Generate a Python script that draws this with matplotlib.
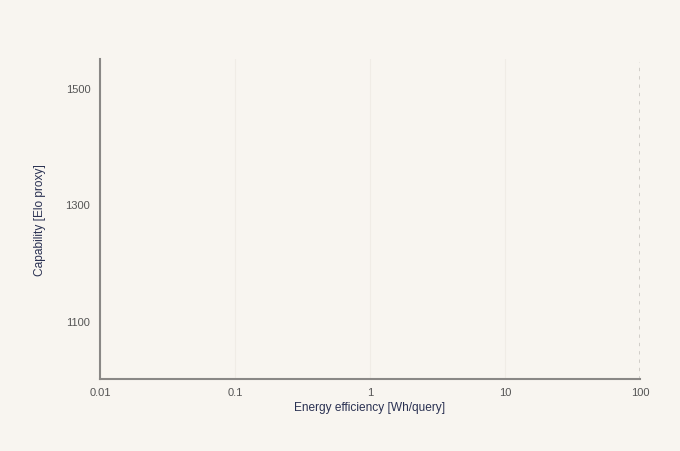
import matplotlib
matplotlib.use("Agg")
import matplotlib.pyplot as plt

# Axis ranges and ticks
X_TICKS = [0.01, 0.1, 1, 10, 100]
X_TICK_LABELS = ["0.01", "0.1", "1", "10", "100"]
Y_TICKS = [1100, 1300, 1500]
X_RANGE = [0.01, 100]
Y_RANGE = [1000, 1550]
REF_X = 100  # dashed reference line

# No models plotted in this view
model_x = []
model_y = []

BG = "#f8f5f0"
TICK_COLOR = "#555555"
LABEL_COLOR = "#2a3152"

plt.rcParams["font.family"] = ["Liberation Sans", "DejaVu Sans"]

fig = plt.figure(figsize=(6.8, 4.52), dpi=100, facecolor=BG)
ax = fig.add_axes([100 / 680, 72 / 452, 540 / 680, 320 / 452], facecolor=BG)

ax.scatter(model_x, model_y)
ax.set_xscale("log")
ax.set_xlim(*X_RANGE)
ax.set_ylim(*Y_RANGE)

ax.set_xticks(X_TICKS)
ax.set_xticklabels(X_TICK_LABELS)
ax.minorticks_off()
ax.set_yticks(Y_TICKS)
ax.tick_params(length=0, labelsize=8, colors=TICK_COLOR, pad=6)
ax.tick_params(axis="y", pad=7)

ax.grid(axis="x", color="#f0ece6", linewidth=0.8)
ax.grid(axis="y", visible=False)
ax.set_axisbelow(True)

ax.axvline(REF_X, color="#cdcac5", linestyle=(0, (1.2, 1.8)), linewidth=2,
           ymax=(1545 - Y_RANGE[0]) / (Y_RANGE[1] - Y_RANGE[0]))

for side in ("top", "right"):
    ax.spines[side].set_visible(False)
for side in ("left", "bottom"):
    ax.spines[side].set_color("#8a8886")
    ax.spines[side].set_linewidth(1.5)

ax.set_xlabel("Energy efficiency [Wh/query]", fontsize=8.6, color=LABEL_COLOR, labelpad=3)
ax.set_ylabel("Capability [Elo proxy]", fontsize=8.6, color=LABEL_COLOR, labelpad=14)

fig.savefig("out.png", dpi=100, facecolor=BG)
